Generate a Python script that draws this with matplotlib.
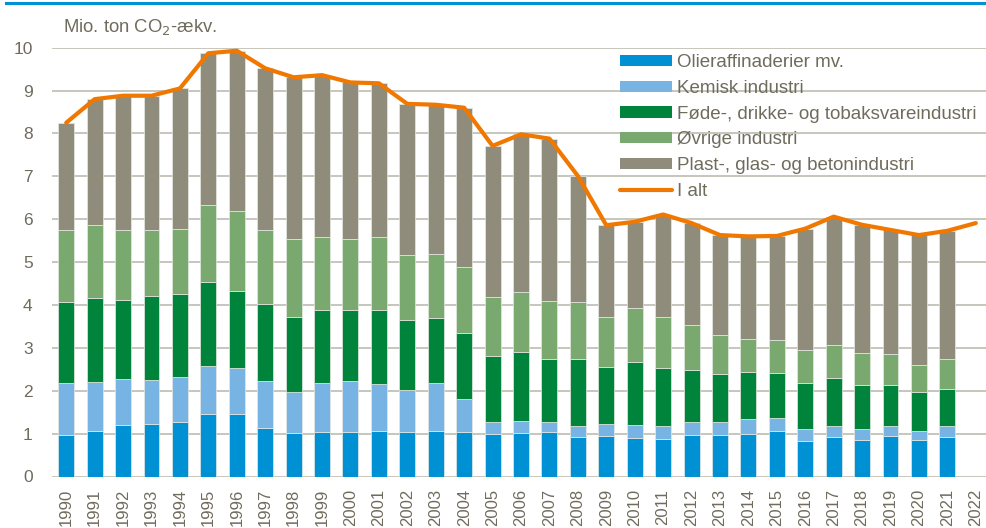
import matplotlib
matplotlib.use("Agg")
import matplotlib.pyplot as plt
from matplotlib.lines import Line2D
from matplotlib.patches import Patch
import numpy as np

plt.rcParams['font.family'] = ['Liberation Sans', 'DejaVu Sans']

years = [str(y) for y in range(1990, 2023)]

olie = [0.97, 1.06, 1.20, 1.23, 1.28, 1.45, 1.46, 1.14, 1.01, 1.03, 1.04,
        1.06, 1.03, 1.07, 1.04, 1.00, 1.02, 1.04, 0.93, 0.95, 0.90, 0.88,
        0.96, 0.96, 0.99, 1.05, 0.82, 0.93, 0.86, 0.95, 0.86, 0.93]
kemi = [1.20, 1.14, 1.07, 1.03, 1.03, 1.12, 1.08, 1.08, 0.97, 1.16, 1.19,
        1.09, 0.98, 1.10, 0.76, 0.28, 0.27, 0.24, 0.25, 0.27, 0.30, 0.30,
        0.32, 0.32, 0.35, 0.32, 0.29, 0.25, 0.24, 0.23, 0.21, 0.25]
fode = [1.90, 1.97, 1.85, 1.96, 1.95, 1.97, 1.79, 1.80, 1.75, 1.70, 1.66,
        1.74, 1.64, 1.52, 1.55, 1.54, 1.62, 1.45, 1.55, 1.34, 1.47, 1.36,
        1.21, 1.12, 1.10, 1.05, 1.08, 1.12, 1.03, 0.96, 0.90, 0.87]
ovrige = [1.67, 1.69, 1.62, 1.52, 1.51, 1.79, 1.86, 1.74, 1.80, 1.70, 1.64,
          1.69, 1.51, 1.51, 1.53, 1.37, 1.39, 1.36, 1.34, 1.16, 1.25, 1.17,
          1.04, 0.89, 0.77, 0.76, 0.77, 0.76, 0.76, 0.71, 0.64, 0.68]
plast = [2.51, 2.94, 3.14, 3.14, 3.28, 3.54, 3.74, 3.76, 3.78, 3.77, 3.66,
         3.59, 3.53, 3.47, 3.72, 3.52, 3.68, 3.79, 2.94, 2.14, 2.02, 2.40,
         2.38, 2.34, 2.39, 2.43, 2.82, 3.00, 2.98, 2.90, 3.02, 3.00]
i_alt = [8.25, 8.80, 8.88, 8.88, 9.05, 9.87, 9.93, 9.52, 9.31, 9.36, 9.19,
         9.17, 8.69, 8.67, 8.60, 7.71, 7.98, 7.88, 7.01, 5.86, 5.94, 6.11,
         5.91, 5.63, 5.60, 5.61, 5.78, 6.06, 5.87, 5.75, 5.63, 5.73, 5.91]

series = [
    ("Olieraffinaderier mv.", olie, "#0091D5"),
    ("Kemisk industri", kemi, "#78B4E3"),
    ("Føde-, drikke- og tobaksvareindustri", fode, "#00833A"),
    ("Øvrige industri", ovrige, "#79A96F"),
    ("Plast-, glas- og betonindustri", plast, "#8F8C7C"),
]
line_color = "#F07800"
text_color = "#6F6C5D"
grid_color = "#BDBCB0"

W, H = 987, 528
fig = plt.figure(figsize=(W / 100, H / 100), dpi=100)
ax_left, ax_right, ax_top, ax_bot = 52, 990, 47.7, 476.5
ax = fig.add_axes([ax_left / W, 1 - ax_bot / H, (ax_right - ax_left) / W, (ax_bot - ax_top) / H])

x = np.arange(len(years))
xb = x[:len(olie)]
bottom = np.zeros(len(olie))
for name, vals, col in series:
    ax.bar(xb, vals, width=0.56, bottom=bottom, color=col, edgecolor="#E6EAE4",
           linewidth=0.5, zorder=2)
    bottom += np.array(vals)

ax.plot(x, i_alt, color=line_color, linewidth=3.0, solid_capstyle="round",
        solid_joinstyle="round", zorder=3)

ax.set_xlim(-0.5, len(years) - 0.5)
ax.set_ylim(0, 10)
ax.set_yticks(range(0, 11))
for v in range(0, 11):
    ax.axhline(v, color=grid_color, linewidth=1.2, zorder=1)
for s in ax.spines.values():
    s.set_visible(False)
ax.set_xticks(x)
ax.set_xticklabels(years, rotation=90, fontsize=12, color=text_color)
ax.tick_params(axis="x", length=0, pad=9)
ax.tick_params(axis="y", length=0, pad=14, labelsize=12.5, labelcolor=text_color)
for lbl in ax.get_xticklabels():
    lbl.set_verticalalignment("top")
    lbl.set_horizontalalignment("center")

fig.text(63 / W, 1 - 32 / H, "Mio. ton CO$_2$-ækv.", fontsize=13.3, color=text_color,
         ha="left", va="baseline")

# top blue rule
fig.add_artist(Line2D([6 / W, 1], [1 - 3 / H, 1 - 3 / H], color="#0091D5", linewidth=2.2))

handles = [Patch(facecolor=col, edgecolor="none") for _, _, col in series]
handles.append(Line2D([0], [0], color=line_color, linewidth=3.0, solid_capstyle="round"))
labels = [s[0] for s in series] + ["I alt"]
fig.legend(handles, labels, loc="upper left", bbox_to_anchor=(620 / W, 1 - 54 / H),
           frameon=False, fontsize=13.5, labelcolor=text_color, handlelength=2.75,
           handleheight=0.55, handletextpad=0.3, labelspacing=0.47, borderpad=0,
           borderaxespad=0)

fig.savefig("out.png", dpi=100)
